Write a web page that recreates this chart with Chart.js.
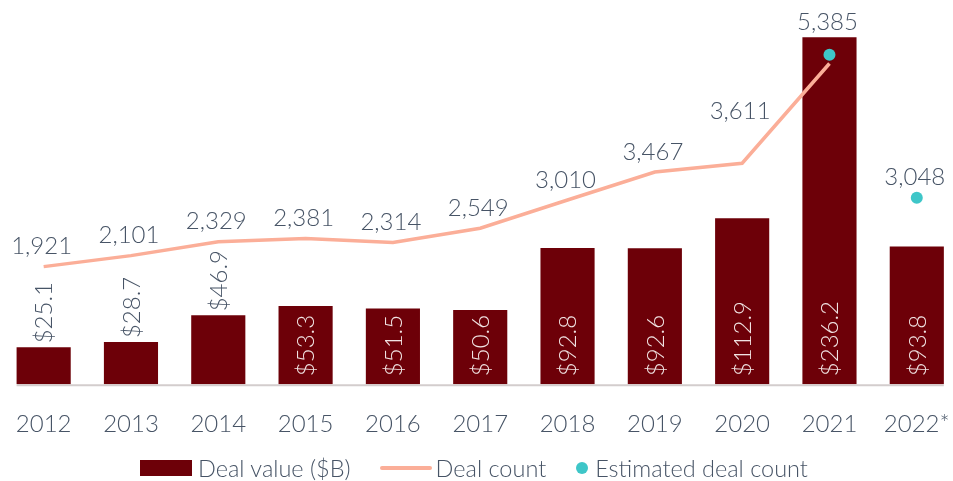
<!DOCTYPE html>
<html>
<head>
<meta charset="utf-8">
<script src="https://cdn.jsdelivr.net/npm/chart.js@4.4.1/dist/chart.umd.min.js"></script>
<style>
  html, body { margin: 0; padding: 0; background: #fff; overflow: hidden; }
  #wrap { position: relative; width: 974px; height: 481px; margin-left: -6px; }
  #legend {
    position: absolute; left: 146px; top: 455px; height: 26px;
    display: flex; align-items: center;
    font-family: Lato, sans-serif; font-weight: 300; font-size: 23.5px; color: #475466;
    white-space: nowrap;
  }
  .sw-bar { width: 52px; height: 16px; background: #6d0008; margin-right: 6px; }
  .sw-line { width: 52px; height: 4px; border-radius: 2px; background: #fbae98; margin: 0 4px 0 29px; }
  .sw-dot { width: 12px; height: 12px; border-radius: 50%; background: #3ec6c8; margin: 0 7px 0 30px; }
</style>
</head>
<body>
<div id="wrap">
  <canvas id="chart" width="974" height="457"></canvas>
  <div id="legend">
    <span class="sw-bar"></span><span>Deal value ($B)</span>
    <span class="sw-line"></span><span>Deal count</span>
    <span class="sw-dot"></span><span>Estimated deal count</span>
  </div>
</div>
<script>
// datos
const years = ['2012', '2013', '2014', '2015', '2016', '2017', '2018', '2019', '2020', '2021', '2022*'];
const dealValue = [25.1, 28.7, 46.9, 53.3, 51.5, 50.6, 92.8, 92.6, 112.9, 236.2, 93.8];
const dealCount = [1921, 2101, 2329, 2381, 2314, 2549, 3010, 3467, 3611, 5240, null];
const estimatedCount = [null, null, null, null, null, null, null, null, null, 5385, 3048];

const textColor = '#475466';
const font = '300 24px Lato, sans-serif';

// etiquetas de valores (barras giradas y conteos encima)
const labelPlugin = {
  id: 'labels',
  beforeDatasetsDraw(chart) {
    const bars = chart.getDatasetMeta(0).data;
    const first = bars[0], last = bars[bars.length - 1];
    const ctx = chart.ctx;
    ctx.save();
    ctx.strokeStyle = '#d3cdcd';
    ctx.lineWidth = 2;
    ctx.beginPath();
    ctx.moveTo(first.x - first.width / 2, chart.chartArea.bottom + 1);
    ctx.lineTo(last.x + last.width / 2, chart.chartArea.bottom + 1);
    ctx.stroke();
    ctx.restore();
  },
  afterDatasetsDraw(chart) {
    const ctx = chart.ctx;
    const bars = chart.getDatasetMeta(0).data;
    const line = chart.getDatasetMeta(1).data;
    const dots = chart.getDatasetMeta(2).data;
    ctx.save();
    ctx.font = font;

    bars.forEach((bar, i) => {
      const v = dealValue[i];
      const txt = '$' + v.toFixed(1);
      ctx.save();
      ctx.textBaseline = 'middle';
      ctx.textAlign = 'left';
      if (v < 50) {
        ctx.translate(bar.x, bar.y - 4);
        ctx.fillStyle = textColor;
      } else {
        ctx.translate(bar.x, bar.base - 8);
        ctx.fillStyle = '#f1e3e3';
      }
      ctx.rotate(-Math.PI / 2);
      ctx.fillText(txt, 0, 1);
      ctx.restore();
    });

    const lift = { 8: 52, 9: 15 };
    ctx.fillStyle = textColor;
    ctx.textAlign = 'center';
    ctx.textBaseline = 'middle';
    years.forEach((y, i) => {
      const value = estimatedCount[i] != null ? estimatedCount[i] : dealCount[i];
      let anchor = Infinity;
      if (dealCount[i] != null) anchor = Math.min(anchor, line[i].y);
      if (estimatedCount[i] != null) anchor = Math.min(anchor, dots[i].y);
      if (i === 9) anchor = Math.min(anchor, bars[i].y);
      const up = lift[i] != null ? lift[i] : 20;
      ctx.fillText(value.toLocaleString('en-US'), bars[i].x - 2, anchor - up);
    });
    ctx.restore();
  }
};

new Chart(document.getElementById('chart'), {
  data: {
    labels: years,
    datasets: [
      {
        type: 'bar',
        label: 'Deal value ($B)',
        data: dealValue,
        backgroundColor: '#6d0008',
        yAxisID: 'y',
        categoryPercentage: 0.62,
        barPercentage: 1,
        order: 3
      },
      {
        type: 'line',
        label: 'Deal count',
        data: dealCount,
        borderColor: '#fbae98',
        borderWidth: 3.5,
        pointRadius: 0,
        tension: 0,
        yAxisID: 'y1',
        order: 2
      },
      {
        type: 'line',
        label: 'Estimated deal count',
        data: estimatedCount,
        showLine: false,
        pointRadius: 6,
        pointBackgroundColor: '#3ec6c8',
        pointBorderWidth: 0,
        yAxisID: 'y1',
        order: 1
      }
    ]
  },
  options: {
    responsive: false,
    animation: false,
    layout: { padding: { top: 17, left: 0, right: 0, bottom: 0 } },
    plugins: {
      legend: { display: false },
      tooltip: { enabled: false }
    },
    scales: {
      x: {
        grid: { display: false },
        border: { display: false },
        ticks: {
          color: textColor,
          font: { family: 'Lato, sans-serif', size: 24, weight: 300 },
          padding: 18,
          maxRotation: 0
        }
      },
      y: { display: false, min: 0, max: 250 },
      y1: { display: false, min: 0, max: 6000 }
    }
  },
  plugins: [labelPlugin]
});
</script>
</body>
</html>
